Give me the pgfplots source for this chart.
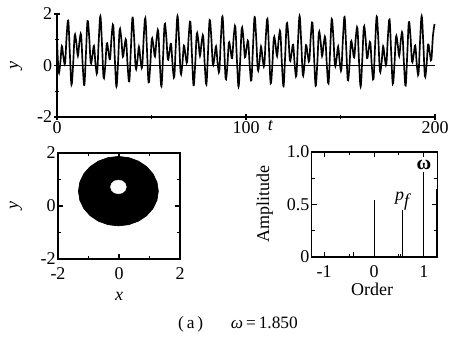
\documentclass[border=0pt]{standalone}
\usepackage{fontspec}
\setmainfont{Liberation Serif}
\usepackage{pgfplots}
\pgfplotsset{compat=1.18}
\usepackage{pgfplotstable}

\pgfplotstableread{
t y
0 1.010
0.85 -0.248
1.7 0.062
2.55 0.750
3.4 0.333
4.25 0.084
5.1 1.146
5.95 1.746
6.8 0.471
7.65 -0.743
8.5 -0.006
9.35 1.162
10.2 0.906
11.05 0.375
11.9 0.929
12.75 1.190
13.6 0.005
14.45 -0.758
15.3 0.441
16.15 1.725
17 1.149
17.85 0.109
18.7 0.360
19.55 0.759
20.4 0.045
21.25 -0.277
22.1 0.990
22.95 1.917
23.8 0.836
24.65 -0.467
25.5 -0.032
26.35 0.853
27.2 0.554
28.05 0.251
28.9 1.130
29.75 1.560
30.6 0.257
31.45 -0.818
32.3 0.116
33.15 1.386
34 1.059
34.85 0.338
35.7 0.731
36.55 0.984
37.4 -0.049
38.25 -0.619
39.1 0.666
39.95 1.861
40.8 1.091
41.65 -0.098
42.5 0.164
43.35 0.726
44.2 0.201
45.05 -0.053
45.9 1.109
46.75 1.839
47.6 0.621
48.45 -0.652
49.3 -0.045
50.15 1.023
51 0.775
51.85 0.352
52.7 1.033
53.55 1.339
54.4 0.085
55.25 -0.809
56.1 0.299
56.95 1.601
57.8 1.140
58.65 0.235
59.5 0.527
60.35 0.837
61.2 -0.025
62.05 -0.442
62.9 0.859
63.75 1.921
64.6 0.971
65.45 -0.304
66.3 0.032
67.15 0.769
68 0.387
68.85 0.131
69.7 1.150
70.55 1.704
71.4 0.415
72.25 -0.770
73.1 0.017
73.95 1.216
74.8 0.950
75.65 0.374
76.5 0.884
77.35 1.135
78.2 -0.016
79.05 -0.730
79.9 0.498
80.75 1.765
81.6 1.142
82.45 0.061
83.3 0.308
84.15 0.743
85 0.078
85.85 -0.221
86.7 1.026
87.55 1.905
88.4 0.785
89.25 -0.518
90.1 -0.043
90.95 0.891
91.8 0.611
92.65 0.284
93.5 1.113
94.35 1.506
95.2 0.209
96.05 -0.824
96.9 0.156
97.75 1.441
98.6 1.086
99.45 0.316
100.3 0.677
101.15 0.939
102 -0.049
102.85 -0.574
103.7 0.722
104.55 1.884
105.4 1.064
106.25 -0.154
107.1 0.123
107.95 0.730
108.8 0.248
109.65 0.000
110.5 1.127
111.35 1.808
112.2 0.564
113.05 -0.690
113.9 -0.034
114.75 1.074
115.6 0.826
116.45 0.365
117.3 1.010
118.15 1.302
119 0.062
119.85 -0.800
120.7 0.333
121.55 1.634
122.4 1.146
123.25 0.196
124.1 0.471
124.95 0.807
125.8 -0.006
126.65 -0.388
127.5 0.906
128.35 1.925
129.2 0.929
130.05 -0.360
130.9 0.005
131.75 0.792
132.6 0.441
133.45 0.175
134.3 1.149
135.15 1.659
136 0.360
136.85 -0.791
137.7 0.045
138.55 1.273
139.4 0.990
140.25 0.367
141.1 0.836
141.95 1.083
142.8 -0.032
143.65 -0.697
144.5 0.554
145.35 1.801
146.2 1.130
147.05 0.010
147.9 0.257
148.75 0.732
149.6 0.116
150.45 -0.164
151.3 1.059
152.15 1.888
153 0.731
153.85 -0.566
154.7 -0.049
155.55 0.931
156.4 0.666
157.25 0.311
158.1 1.091
158.95 1.452
159.8 0.164
160.65 -0.824
161.5 0.201
162.35 1.497
163.2 1.109
164.05 0.289
164.9 0.621
165.75 0.898
166.6 -0.045
167.45 -0.527
168.3 0.775
169.15 1.902
170 1.033
170.85 -0.211
171.7 0.085
172.55 0.741
173.4 0.299
174.25 0.051
175.1 1.140
175.95 1.785
176.8 0.527
177.65 -0.713
178.5 -0.025
179.35 1.108
180.2 0.859
181.05 0.371
181.9 0.971
182.75 1.246
183.6 0.032
184.45 -0.781
185.3 0.387
186.15 1.681
187 1.150
187.85 0.154
188.7 0.415
189.55 0.780
190.4 0.017
191.25 -0.334
192.1 0.950
192.95 1.924
193.8 0.884
194.65 -0.415
195.5 -0.016
196.35 0.820
197.2 0.498
198.05 0.215
198.9 1.142
199.75 1.611
}\tsdata

\pgfplotstableread{
x y
1.29 0.56
1.245 0.899
1.114 1.215
0.906 1.486
0.635 1.694
0.319 1.825
-0.02 1.87
-0.359 1.825
-0.675 1.694
-0.946 1.486
-1.154 1.215
-1.285 0.899
-1.33 0.56
-1.285 0.221
-1.154 -0.095
-0.946 -0.366
-0.675 -0.574
-0.359 -0.705
-0.02 -0.75
0.319 -0.705
0.635 -0.574
0.906 -0.366
1.114 -0.095
1.245 0.221
}\outer

\pgfplotstableread{
x y
0.24 0.72
0.205 0.85
0.11 0.945
-0.02 0.98
-0.15 0.945
-0.245 0.85
-0.28 0.72
-0.245 0.59
-0.15 0.495
-0.02 0.46
0.11 0.495
0.205 0.59
}\inner

\pgfplotstableread{
x y
-0.42 0.05
0 0.54
0.53 0.03
0.577 0.45
1 0.81
1.245 0.65
}\spec

\begin{document}
\fontsize{13.5}{16}\selectfont
\begin{tikzpicture}
\path[use as bounding box] (0,0) rectangle (339.75pt,256.5pt);
\pgfplotsset{every axis/.append style={
  font=\fontsize{13.5}{16}\selectfont,
  /pgf/number format/assume math mode=true,
  scale only axis,
  tick style={black, line width=0.8pt},
  major tick length=4pt, minor tick length=2.5pt,
  tick align=inside,
  axis line style={line width=0.9pt},
  every tick label/.append style={inner sep=1.5pt},
}}
% top: time series
\begin{axis}[at={(42.75pt,168.75pt)}, anchor=south west,
  width=283.5pt, height=77.25pt,
  xmin=0, xmax=200, ymin=-2, ymax=2,
  axis lines=left, axis line style={-, line width=0.9pt},
  xtick={0,100,200}, minor xtick={50,150},
  ytick={-2,0,2}, minor ytick={-1,1},
  ylabel={\textit{y}},
  ylabel style={at={(axis description cs:-0.108,0.5)}, anchor=center},
  clip=false]
\addplot[black, line width=0.8pt] coordinates {(0,0) (200,0)};
\addplot[black, line width=1.25pt, smooth, tension=0.6] table[x=t, y=y] {\tsdata};
\node[anchor=base] at (axis description cs:0.565,-0.13) {\textit{t}};
\end{axis}
% bottom left: phase portrait
\begin{axis}[at={(43.5pt,62.25pt)}, anchor=south west,
  width=91.5pt, height=79.5pt,
  xmin=-2, xmax=2, ymin=-2, ymax=2,
  xtick={-2,0,2}, ytick={-2,0,2},
  minor xtick={-1,1}, minor ytick={-1,1},
  xticklabel style={yshift=-4.5pt},
  xlabel={\textit{x}}, ylabel={\textit{y}},
  xlabel style={at={(axis description cs:0.5,-0.35)}, anchor=center},
  ylabel style={at={(axis description cs:-0.344,0.5)}, anchor=center}]
\addplot[fill=black, draw=black, line width=0.5pt] table[x=x, y=y] {\outer} -- cycle;
\addplot[fill=white, draw=white, line width=0.3pt] table[x=x, y=y] {\inner} -- cycle;
\end{axis}
% bottom right: spectrum
\begin{axis}[at={(233.8pt,63.75pt)}, anchor=south west,
  width=94.2pt, height=78.75pt,
  xmin=-1.25, xmax=1.27, ymin=0, ymax=1,
  xtick={-1,0,1}, minor xtick={-0.5,0.5},
  ytick={0,0.5,1}, yticklabels={0,0.5,1.0}, minor ytick={0.25,0.75},
  xticklabel style={yshift=-4.5pt},
  xlabel={Order}, ylabel={Amplitude},
  xlabel style={at={(axis description cs:0.48,-0.31)}, anchor=center},
  ylabel style={at={(axis description cs:-0.374,0.5)}, anchor=center},
  clip=false]
\addplot[ycomb, black, line width=0.6pt, mark=none] table[x=x, y=y] {\spec};
\node at (axis cs:1.0,0.88) {\fontsize{15}{17}\selectfont\textbf{ω}};
\node at (axis cs:0.57,0.53) {\textit{p}$_{\textit{f}}$};
\end{axis}
\node at (178.5pt,13.5pt) {\fontsize{13}{15}\selectfont (\,a\,)\hspace{1.6em}\textit{ω}\,=\,1.850};
\end{tikzpicture}
\end{document}
